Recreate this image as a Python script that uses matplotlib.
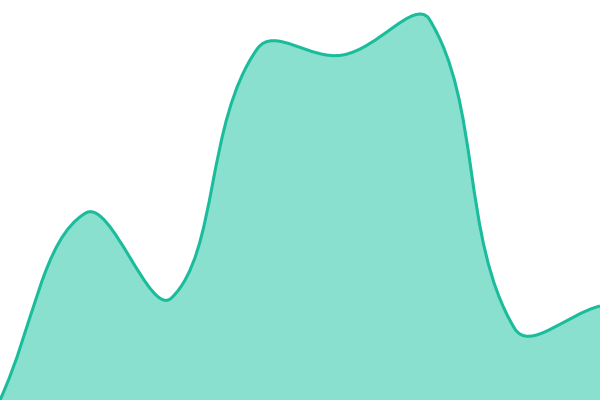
import numpy as np
import matplotlib
matplotlib.use("Agg")
import matplotlib.pyplot as plt
from matplotlib.path import Path
from matplotlib.patches import PathPatch

labels = ["A", "B", "C", "D", "E", "F", "G", "H"]
values = [0, 187, 102, 351, 345, 382, 72, 94]

W, H = 600, 400
YMAX = 400
TENSION = 0.4
LINE = "#1abc9c"
FILL = "#89e0cf"

fig = plt.figure(figsize=(6, 4), dpi=100)
ax = fig.add_axes([0, 0, 1, 1])
ax.set_xlim(0, len(values) - 1)
ax.set_ylim(0, YMAX)
ax.axis("off")

# Convert to pixel scale for Chart.js-like spline control points
xs = np.arange(len(values), dtype=float)
px = xs * W / (len(values) - 1)
py = np.array(values, dtype=float) * H / YMAX
n = len(values)
cps = []
for i in range(n):
    p0 = (px[max(i - 1, 0)], py[max(i - 1, 0)])
    p1 = (px[i], py[i])
    p2 = (px[min(i + 1, n - 1)], py[min(i + 1, n - 1)])
    d01 = np.hypot(p1[0] - p0[0], p1[1] - p0[1])
    d12 = np.hypot(p2[0] - p1[0], p2[1] - p1[1])
    s = d01 + d12
    fa = TENSION * d01 / s if s else 0
    fb = TENSION * d12 / s if s else 0
    prev = (p1[0] - fa * (p2[0] - p0[0]), p1[1] - fa * (p2[1] - p0[1]))
    nxt = (p1[0] + fb * (p2[0] - p0[0]), p1[1] + fb * (p2[1] - p0[1]))
    prev = (min(max(prev[0], 0), W), min(max(prev[1], 0), H))
    nxt = (min(max(nxt[0], 0), W), min(max(nxt[1], 0), H))
    cps.append((prev, nxt))

def to_data(p):
    return (p[0] * (n - 1) / W, p[1] * YMAX / H)

verts = [to_data((px[0], py[0]))]
codes = [Path.MOVETO]
for i in range(n - 1):
    verts += [to_data(cps[i][1]), to_data(cps[i + 1][0]), to_data((px[i + 1], py[i + 1]))]
    codes += [Path.CURVE4] * 3

line_path = Path(verts, codes)
fill_verts = verts + [(xs[-1], 0), (xs[0], 0), verts[0]]
fill_codes = codes + [Path.LINETO, Path.LINETO, Path.CLOSEPOLY]
fill_path = Path(fill_verts, fill_codes)

ax.add_patch(PathPatch(fill_path, facecolor=FILL, edgecolor="none"))
ax.add_patch(PathPatch(line_path, facecolor="none", edgecolor=LINE, linewidth=2.2, capstyle="butt", joinstyle="round"))

fig.savefig("out.png", dpi=100)
